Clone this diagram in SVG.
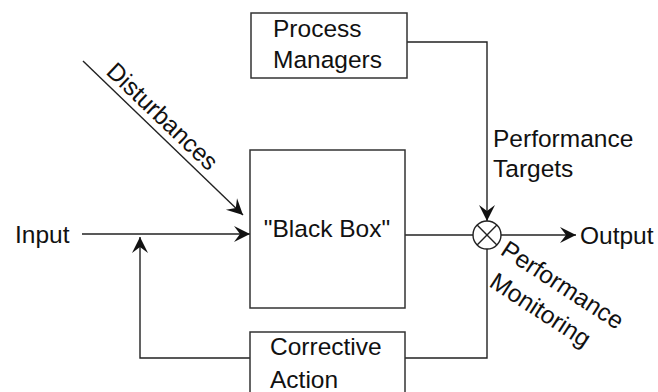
<svg xmlns="http://www.w3.org/2000/svg" width="658" height="392" viewBox="0 0 658 392">
  <style>
    .box { fill: #ffffff; stroke: #333333; stroke-width: 1.5; }
    .wire { fill: none; stroke: #222222; stroke-width: 1.4; }
    .lbl { font-family: "Liberation Sans", Arial, sans-serif; font-size: 24.5px; fill: #111111; }
  </style>
  <defs>
    <marker id="arrow" viewBox="-18 -9 20 18" refX="0" refY="0" markerWidth="20" markerHeight="18" markerUnits="userSpaceOnUse" orient="auto">
      <path d="M0,0 L-16,-8 L-10,0 L-16,8 Z" fill="#111111"/>
    </marker>
  </defs>

  <rect width="658" height="392" fill="#ffffff"/>

  <!-- connectors -->
  <g id="connectors">
    <!-- disturbances into the process -->
    <line class="wire" x1="83" y1="61" x2="243" y2="215" marker-end="url(#arrow)"/>
    <!-- input -->
    <line class="wire" x1="82" y1="234" x2="250" y2="234" marker-end="url(#arrow)"/>
    <!-- process output to comparator -->
    <line class="wire" x1="405" y1="235" x2="473" y2="235"/>
    <!-- comparator to output -->
    <line class="wire" x1="501" y1="235" x2="576" y2="235" marker-end="url(#arrow)"/>
    <!-- targets from process managers -->
    <polyline class="wire" points="407,42 487,42 487,221" marker-end="url(#arrow)"/>
    <!-- monitoring down to corrective action -->
    <polyline class="wire" points="487,249 487,358 405,358"/>
    <!-- corrective action back to input -->
    <polyline class="wire" points="250,358 140,358 140,237" marker-end="url(#arrow)"/>
  </g>

  <g id="process-managers">
    <rect class="box" x="251" y="13" width="156" height="65"/>
    <text class="lbl" x="273" y="37">Process</text>
    <text class="lbl" x="273" y="68">Managers</text>
  </g>

  <g id="black-box">
    <rect class="box" x="250" y="150" width="155" height="158"/>
    <text class="lbl" x="327" y="237" text-anchor="middle">"Black Box"</text>
  </g>

  <g id="corrective-action">
    <rect class="box" x="250" y="332" width="155" height="80"/>
    <text class="lbl" x="270" y="355">Corrective</text>
    <text class="lbl" x="270" y="388">Action</text>
  </g>

  <g id="comparator">
    <circle cx="487" cy="235" r="14" fill="#ffffff" stroke="#222222" stroke-width="1.4"/>
    <path d="M477.1,225.1 L496.9,244.9 M496.9,225.1 L477.1,244.9" stroke="#222222" stroke-width="1.4" fill="none"/>
  </g>

  <g id="labels">
    <text class="lbl" x="15" y="243">Input</text>
    <text class="lbl" x="580" y="244">Output</text>
    <text class="lbl" x="493" y="147">Performance</text>
    <text class="lbl" x="493" y="177">Targets</text>
    <text class="lbl" transform="translate(105,73) rotate(43.7)">Disturbances</text>
    <text class="lbl" text-anchor="middle" transform="translate(558,292) rotate(33)">Performance</text>
    <text class="lbl" text-anchor="middle" transform="translate(536,317) rotate(33)">Monitoring</text>
  </g>
</svg>
